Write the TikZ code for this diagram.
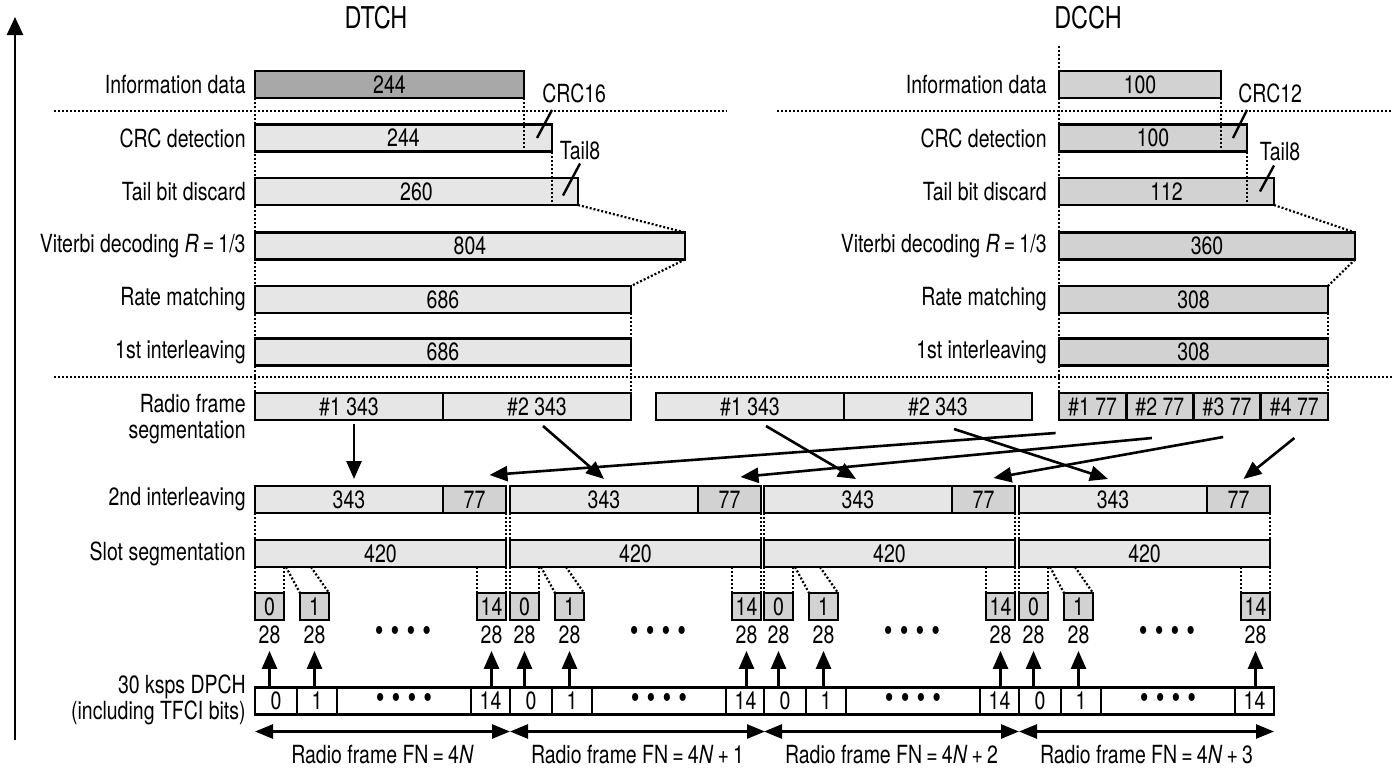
\documentclass[tikz,border=0pt]{standalone}
\usepackage{fontspec}
\setmainfont[FakeStretch=0.78]{TeX Gyre Heros}
\usetikzlibrary{arrows.meta,positioning,calc}
\definecolor{palegray}{RGB}{230,230,230}
\definecolor{midgray}{RGB}{210,210,210}
\definecolor{infogray}{RGB}{168,168,168}
\newcommand{\rowfont}{\fontsize{12.5}{13}\selectfont}
\newcommand{\fourdots}{{\fontsize{16}{16}\selectfont\textbullet\hspace{0.22em}\textbullet\hspace{0.22em}\textbullet\hspace{0.22em}\textbullet}}
\tikzset{
  chbox/.style={rectangle,draw=black,line width=1.4pt,inner sep=0pt,outer sep=0pt,minimum height=13.5pt,anchor=west,font=\rowfont},
  boxw/.style={minimum width=#1*0.5pt},
  palebox/.style={chbox,fill=palegray},
  midbox/.style={chbox,fill=midgray},
  infobox/.style={chbox,fill=infogray},
  cellbox/.style={chbox,fill=white},
  rowlabel/.style={font=\rowfont,align=right,inner sep=0pt},
  notetext/.style={font=\rowfont,inner sep=0pt},
  titletext/.style={font=\fontsize{15}{16}\selectfont,inner sep=0pt},
  guide/.style={line width=1.1pt,dash pattern=on 1pt off 1pt},
  slash/.style={line width=1.2pt},
  arr/.style={-{Triangle[length=9pt,width=7.5pt]},line width=1.3pt},
  dblarr/.style={{Triangle[length=9pt,width=7pt]}-{Triangle[length=9pt,width=7pt]},line width=1.3pt}
}

\begin{document}
\begin{tikzpicture}[x=0.5pt,y=-0.5pt]
  \useasboundingbox (0,0) rectangle (1392,767);

  %% time axis and titles
  \coordinate (axisfoot) at (15,740);
  \coordinate (axishead) at (15,17);
  \draw[-{Triangle[length=9pt,width=8pt]},line width=1.3pt] (axisfoot) -- (axishead);
  \node[titletext] (dtchtitle) at (376,18) {DTCH};
  \node[titletext] (dcchtitle) at (1088,18) {DCCH};

  %% DTCH column
  \node[infobox,boxw=269] (dinfo) at (255,84.5) {244};
  \node[palebox,boxw=297] (dcrc) at (255,138) {244};
  \node[palebox,boxw=323] (dtail) at (255,191.5) {260};
  \node[palebox,boxw=430] (dvit) at (255,246) {804};
  \node[palebox,boxw=376] (drate) at (255,299.5) {686};
  \node[palebox,boxw=376] (dint) at (255,352) {686};
  \node[palebox,boxw=188] (dseg1) at (255,406.5) {\#1 343};
  \node[palebox,boxw=188,right=0pt of dseg1] (dseg2) {\#2 343};
  \node[palebox,boxw=188] (mseg1) at (656,406.5) {\#1 343};
  \node[palebox,boxw=188,right=0pt of mseg1] (mseg2) {\#2 343};

  \node[rowlabel,left=4.5pt of dinfo] (dinfolbl) {Information data};
  \node[rowlabel,left=4.5pt of dcrc] (dcrclbl) {CRC detection};
  \node[rowlabel,left=4.5pt of dtail] (dtaillbl) {Tail bit discard};
  \node[rowlabel,left=4.5pt of dvit] (dvitlbl) {Viterbi decoding \textit{R}\,=\,1/3};
  \node[rowlabel,left=4.5pt of drate] (dratelbl) {Rate matching};
  \node[rowlabel,left=4.5pt of dint] (dintlbl) {1st interleaving};
  \node[rowlabel,anchor=east] (dseglbl) at ([xshift=-4.5pt,yshift=-6.5pt]dseg1.west) {Radio frame\\segmentation};

  %% DCCH column
  \node[midbox,boxw=162] (cinfo) at (1059,84.5) {100};
  \node[midbox,boxw=188] (ccrc) at (1059,138) {100};
  \node[midbox,boxw=215] (ctail) at (1059,191.5) {112};
  \node[midbox,boxw=296] (cvit) at (1059,246) {360};
  \node[midbox,boxw=269] (crate) at (1059,299.5) {308};
  \node[midbox,boxw=269] (cint) at (1059,352) {308};
  \node[midbox,boxw=67.25] (cseg1) at (1059,406.5) {\#1 77};
  \node[midbox,boxw=67.25,right=0pt of cseg1] (cseg2) {\#2 77};
  \node[midbox,boxw=67.25,right=0pt of cseg2] (cseg3) {\#3 77};
  \node[midbox,boxw=67.25,right=0pt of cseg3] (cseg4) {\#4 77};

  \node[rowlabel,left=6pt of cinfo] (cinfolbl) {Information data};
  \node[rowlabel,left=6pt of ccrc] (ccrclbl) {CRC detection};
  \node[rowlabel,left=6pt of ctail] (ctaillbl) {Tail bit discard};
  \node[rowlabel,left=6pt of cvit] (cvitlbl) {Viterbi decoding \textit{R}\,=\,1/3};
  \node[rowlabel,left=6pt of crate] (cratelbl) {Rate matching};
  \node[rowlabel,left=6pt of cint] (cintlbl) {1st interleaving};

  %% CRC and tail marks
  \coordinate (dcrctop) at ([yshift=14pt]dcrc.east);
  \coordinate (dcrcbot) at ([xshift=-7.5pt]dcrc.east);
  \draw[slash] (dcrctop) -- (dcrcbot);
  \node[notetext,anchor=south west] (dcrcnote) at ([xshift=-5pt,yshift=3.5pt]dcrctop) {CRC16};
  \coordinate (dtailtop) at ([xshift=1pt,yshift=14pt]dtail.east);
  \coordinate (dtailbot) at ([xshift=-7.5pt,yshift=-2pt]dtail.east);
  \draw[slash] (dtailtop) -- (dtailbot);
  \node[notetext,anchor=south] (dtailnote) at ([yshift=1.5pt]dtailtop) {Tail8};
  \coordinate (ccrctop) at ([yshift=14pt]ccrc.east);
  \coordinate (ccrcbot) at ([xshift=-7pt]ccrc.east);
  \draw[slash] (ccrctop) -- (ccrcbot);
  \node[notetext,anchor=south west] (ccrcnote) at ([xshift=-4.5pt,yshift=3.5pt]ccrctop) {CRC12};
  \coordinate (ctailtop) at ([xshift=0pt,yshift=13pt]ctail.east);
  \coordinate (ctailbot) at ([xshift=-7pt,yshift=0pt]ctail.east);
  \draw[slash] (ctailtop) -- (ctailbot);
  \node[notetext,anchor=south] (ctailnote) at ([xshift=3pt,yshift=2pt]ctailtop) {Tail8};

  %% dotted guides
  \draw[guide] (54,111) -- (727,111);
  \draw[guide] (777,111) -- (1392,111);
  \draw[guide] (54,377) -- (1392,377);
  \draw[guide] (dinfo.south west) -- (dseg1.north west);
  \draw[guide] (dinfo.south east) -- (dinfo.south east |- dcrc.south);
  \draw[guide] (dcrc.south east) -- (dcrc.south east |- dtail.south);
  \draw[guide] (dtail.south east) -- (dvit.north east);
  \draw[guide] (dvit.south east) -- (drate.north east);
  \draw[guide] (drate.south east) -- (dseg2.north east);
  \coordinate (ctop) at ([yshift=12.5pt]cinfo.north west);
  \draw[guide] (ctop) -- (cseg1.north west);
  \draw[guide] (cinfo.south east) -- (cinfo.south east |- ccrc.south);
  \draw[guide] (ccrc.south east) -- (ccrc.south east |- ctail.south);
  \draw[guide] (ctail.south east) -- (cvit.north east);
  \draw[guide] (cvit.south east) -- (crate.north east);
  \draw[guide] (crate.south east) -- (cseg4.north east);

  %% the four radio frames
  \node[rowlabel,anchor=east] (int2lbl) at (246,499.5) {2nd interleaving};
  \node[rowlabel,anchor=east] (slotlbl) at (246,553.5) {Slot segmentation};
  \node[font=\fontsize{12.5}{11.5}\selectfont,align=right,inner sep=0pt,anchor=east] (dpchlbl) at (246,700) {30 ksps DPCH\\(including TFCI bits)};
  \foreach \i/\x/\fn in {1/255/4\textit{N}, 2/510/4\textit{N}\,+\,1, 3/764/4\textit{N}\,+\,2, 4/1019/4\textit{N}\,+\,3}{
    \node[palebox,boxw=188] (big\i) at (\x,499.5) {343};
    \node[midbox,boxw=63,right=0pt of big\i] (small\i) {77};
    \node[palebox,boxw=251] (slot\i) at (\x,553.5) {420};
    \draw[guide] (big\i.south west) -- (slot\i.north west);
    \draw[guide] (small\i.south east) -- (slot\i.north east);
    \node[midbox,boxw=29] (sa\i) at (\x,606.5) {0};
    \node[midbox,boxw=29] (sb\i) at (\x+45,606.5) {1};
    \node[midbox,boxw=29] (sc\i) at (\x+222,606.5) {14};
    \draw[guide] (slot\i.south west) -- (sa\i.north west);
    \draw[guide] (sa\i.north east |- slot\i.south) -- (sa\i.north east);
    \draw[guide] ([xshift=1pt]sa\i.north east |- slot\i.south) -- (sb\i.north west);
    \draw[guide] ([xshift=28pt]slot\i.south west) -- (sb\i.north east);
    \draw[guide] (sc\i.north west |- slot\i.south) -- (sc\i.north west);
    \draw[guide] (slot\i.south east) -- (sc\i.north east);
    \node[notetext,below=2.5pt of sa\i] (na\i) {28};
    \node[notetext,below=2.5pt of sb\i] (nb\i) {28};
    \node[notetext,below=2.5pt of sc\i] (nc\i) {28};
    \node[notetext] (nd\i) at ($(sb\i.east |- na\i)!0.5!(sc\i.west |- na\i)$) {\fourdots};
    \node[cellbox,boxw=42] (pa\i) at (\x,701) {0};
    \node[cellbox,boxw=40,right=0pt of pa\i] (pb\i) {1};
    \node[cellbox,boxw=134,right=0pt of pb\i] (pc\i) {\fourdots};
    \node[cellbox,boxw=39,right=0pt of pc\i] (pd\i) {14};
    \draw[arr] (sa\i |- pa\i.north) -- ([yshift=-3.5pt]na\i.south);
    \draw[arr] (sb\i |- pb\i.north) -- ([yshift=-3.5pt]nb\i.south);
    \draw[arr] (sc\i |- pd\i.north) -- ([yshift=-3.5pt]nc\i.south);
    \draw[dblarr] ([yshift=-8.5pt]pa\i.south west) -- node[notetext,below=6pt] (fn\i) {Radio frame FN\,=\,\fn} ([yshift=-8.5pt]pd\i.south east);
  }

  %% segment mapping
  \draw[arr] ([xshift=2.5pt,yshift=-2pt]dseg1.south) -- ([xshift=2.5pt,yshift=3.5pt]big1.north);
  \draw[arr] ([xshift=3pt,yshift=-3pt]dseg2.south) -- ([yshift=3.5pt]big2.north);
  \draw[arr] ([xshift=8pt,yshift=-3pt]mseg1.south) -- ([xshift=-1pt,yshift=3.5pt]big3.north);
  \draw[arr] ([xshift=8pt,yshift=-4.5pt]mseg2.south) -- ([xshift=-2.5pt,yshift=3.5pt]big4.north);
  \draw[arr] ([xshift=-18.5pt,yshift=-6.5pt]cseg1.south) -- ([xshift=7.5pt,yshift=5.5pt]small1.north);
  \draw[arr] ([xshift=-4pt,yshift=-9pt]cseg2.south) -- ([xshift=5.5pt,yshift=4.5pt]small2.north);
  \draw[arr] ([xshift=-2pt,yshift=-8.5pt]cseg3.south) -- ([xshift=5pt,yshift=4pt]small3.north);
  \draw[arr] ([yshift=-9pt]cseg4.south) -- ([xshift=2.5pt,yshift=3.5pt]small4.north);
\end{tikzpicture}
\end{document}
